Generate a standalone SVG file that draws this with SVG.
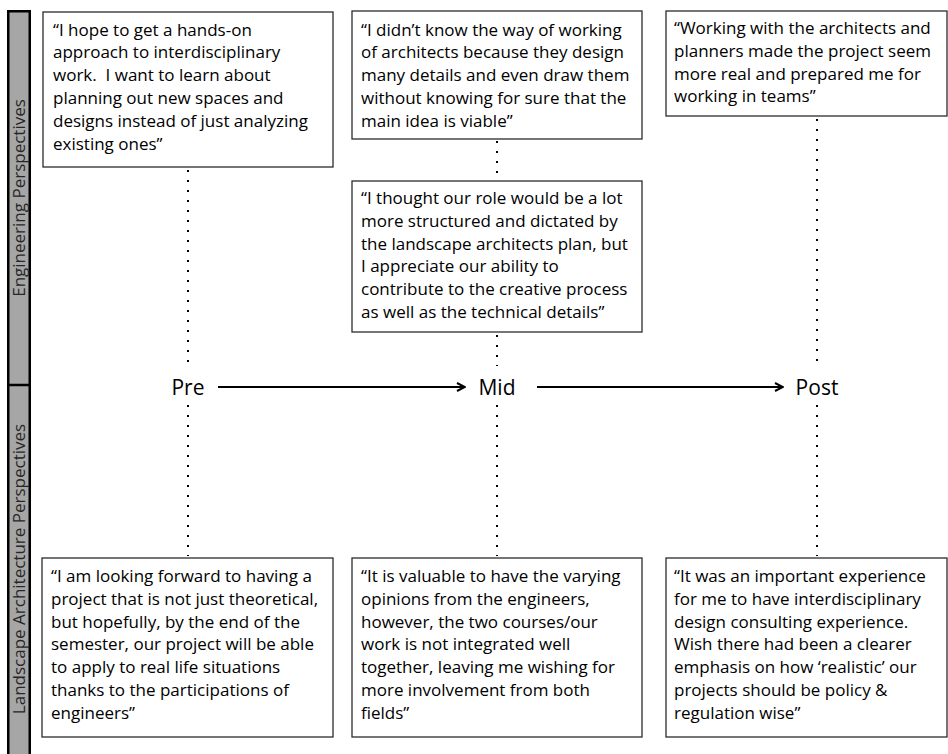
<svg xmlns="http://www.w3.org/2000/svg" width="948" height="754" viewBox="0 0 948 754">
<defs>
<style>
.box{fill:#ffffff;stroke:#2b2b2b;stroke-width:1.3}
.q{font-family:"Open Sans","Liberation Sans",sans-serif;font-size:17px;fill:#000000;white-space:pre}
.stage{font-family:"Open Sans","Liberation Sans",sans-serif;font-size:21px;fill:#000000;text-anchor:middle}
.side{font-family:"Open Sans","Liberation Sans",sans-serif;font-size:17px;fill:#262626;text-anchor:middle}
.dots{stroke:#000000;stroke-width:2;stroke-dasharray:2 8;fill:none}
.arrow{stroke:#000000;stroke-width:2;fill:none}
</style>
<marker id="ah" viewBox="0 0 10 10" refX="9" refY="5" markerWidth="10" markerHeight="10" markerUnits="userSpaceOnUse" orient="auto">
<path d="M1,1 L9,5 L1,9" fill="none" stroke="#000000" stroke-width="2"/>
</marker>
</defs>
<rect width="948" height="754" fill="#ffffff"/>

<g id="sidebar">
<rect x="8.25" y="11.25" width="21.5" height="760" fill="#a6a6a6" stroke="#000000" stroke-width="2.5"/>
<line x1="8" y1="385" x2="30" y2="385" stroke="#000000" stroke-width="2.5"/>
<text class="side" transform="translate(25,198) rotate(-90)">Engineering Perspectives</text>
<text class="side" transform="translate(25,569) rotate(-90)">Landscape Architecture Perspectives</text>
</g>

<g id="connectors">
<line class="dots" x1="188" y1="170" x2="188" y2="366"/>
<line class="dots" x1="188" y1="405" x2="188" y2="556"/>
<line class="dots" x1="497" y1="141" x2="497" y2="180"/>
<line class="dots" x1="497" y1="335" x2="497" y2="366"/>
<line class="dots" x1="497" y1="405" x2="497" y2="556"/>
<line class="dots" x1="817" y1="119" x2="817" y2="366"/>
<line class="dots" x1="817" y1="405" x2="817" y2="556"/>
<line class="arrow" x1="218" y1="387" x2="465" y2="387" marker-end="url(#ah)"/>
<line class="arrow" x1="537" y1="387" x2="783" y2="387" marker-end="url(#ah)"/>
</g>

<g id="stage-pre"><text class="stage" x="188" y="395">Pre</text></g>
<g id="stage-mid"><text class="stage" x="497" y="395">Mid</text></g>
<g id="stage-post"><text class="stage" x="817" y="395">Post</text></g>

<g id="eng-pre">
<rect class="box" x="43" y="12" width="290" height="155"/>
<text class="q" x="53" y="35.5">“I hope to get a hands-on</text>
<text class="q" x="53" y="58.3">approach to interdisciplinary</text>
<text class="q" x="53" y="81.1">work.  I want to learn about</text>
<text class="q" x="53" y="103.9">planning out new spaces and</text>
<text class="q" x="53" y="126.7">designs instead of just analyzing</text>
<text class="q" x="53" y="149.5">existing ones”</text>
</g>

<g id="eng-mid-1">
<rect class="box" x="352" y="11" width="290" height="128"/>
<text class="q" x="361" y="35.5">“I didn’t know the way of working</text>
<text class="q" x="361" y="58.3">of architects because they design</text>
<text class="q" x="361" y="81.1">many details and even draw them</text>
<text class="q" x="361" y="103.9">without knowing for sure that the</text>
<text class="q" x="361" y="126.7">main idea is viable”</text>
</g>

<g id="eng-post">
<rect class="box" x="666" y="11" width="281" height="105"/>
<text class="q" x="674" y="34">“Working with the architects and</text>
<text class="q" x="674" y="56.8">planners made the project seem</text>
<text class="q" x="674" y="79.6">more real and prepared me for</text>
<text class="q" x="674" y="102.4">working in teams”</text>
</g>

<g id="eng-mid-2">
<rect class="box" x="352" y="181" width="290" height="151"/>
<text class="q" x="361" y="204">“I thought our role would be a lot</text>
<text class="q" x="361" y="226.8">more structured and dictated by</text>
<text class="q" x="361" y="249.6">the landscape architects plan, but</text>
<text class="q" x="361" y="272.4">I appreciate our ability to</text>
<text class="q" x="361" y="295.2">contribute to the creative process</text>
<text class="q" x="361" y="318">as well as the technical details”</text>
</g>

<g id="la-pre">
<rect class="box" x="42" y="558" width="291" height="179"/>
<text class="q" x="51" y="582">“I am looking forward to having a</text>
<text class="q" x="51" y="604.8">project that is not just theoretical,</text>
<text class="q" x="51" y="627.6">but hopefully, by the end of the</text>
<text class="q" x="51" y="650.4">semester, our project will be able</text>
<text class="q" x="51" y="673.2">to apply to real life situations</text>
<text class="q" x="51" y="696">thanks to the participations of</text>
<text class="q" x="51" y="718.8">engineers”</text>
</g>

<g id="la-mid">
<rect class="box" x="352" y="558" width="290" height="179"/>
<text class="q" x="361" y="582">“It is valuable to have the varying</text>
<text class="q" x="361" y="604.8">opinions from the engineers,</text>
<text class="q" x="361" y="627.6">however, the two courses/our</text>
<text class="q" x="361" y="650.4">work is not integrated well</text>
<text class="q" x="361" y="673.2">together, leaving me wishing for</text>
<text class="q" x="361" y="696">more involvement from both</text>
<text class="q" x="361" y="718.8">fields”</text>
</g>

<g id="la-post">
<rect class="box" x="666" y="558" width="281" height="179"/>
<text class="q" x="674" y="582">“It was an important experience</text>
<text class="q" x="674" y="604.8">for me to have interdisciplinary</text>
<text class="q" x="674" y="627.6">design consulting experience.</text>
<text class="q" x="674" y="650.4">Wish there had been a clearer</text>
<text class="q" x="674" y="673.2">emphasis on how ‘realistic’ our</text>
<text class="q" x="674" y="696">projects should be policy &amp;</text>
<text class="q" x="674" y="718.8">regulation wise”</text>
</g>
</svg>
